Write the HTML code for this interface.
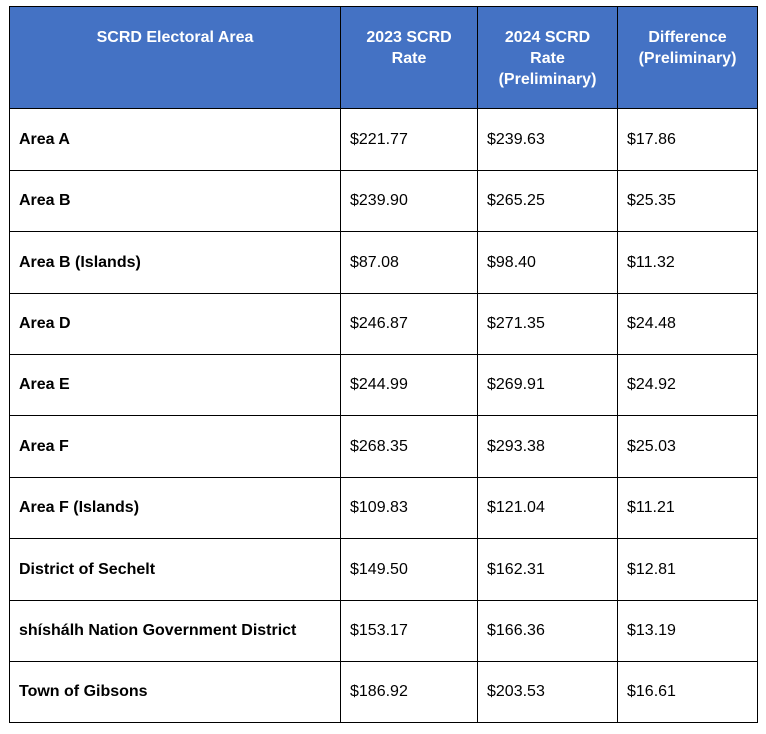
<!DOCTYPE html>
<html><head><meta charset="utf-8"><style>
body{margin:0;background:#fff;width:766px;height:734px;position:relative;font-family:"Liberation Sans",Arial,sans-serif;}
.c{position:absolute;box-sizing:border-box;border:1px solid #000;font-size:16px;color:#000;}
.h{background:#4472C4;color:#fff;font-weight:bold;text-align:center;padding-top:20px;line-height:21px;}
.d{display:flex;align-items:center;padding-left:9px;}
.b{font-weight:bold;}
</style></head><body>
<div id="t"></div>
<script>
const headers=["SCRD Electoral Area","2023 SCRD<br>Rate","2024 SCRD<br>Rate<br>(Preliminary)","Difference<br>(Preliminary)"];
const areas=["Area A","Area B","Area B (Islands)","Area D","Area E","Area F","Area F (Islands)","District of Sechelt","shíshálh Nation Government District","Town of Gibsons"];
const rate2023=["$221.77","$239.90","$87.08","$246.87","$244.99","$268.35","$109.83","$149.50","$153.17","$186.92"];
const rate2024=["$239.63","$265.25","$98.40","$271.35","$269.91","$293.38","$121.04","$162.31","$166.36","$203.53"];
const diff=["$17.86","$25.35","$11.32","$24.48","$24.92","$25.03","$11.21","$12.81","$13.19","$16.61"];
const xs=[9,340,477,617,757];
const ys=[6,108,170,231,293,354,415,477,538,600,661,722];
const t=document.getElementById('t');
function cell(x0,x1,y0,y1,html,cls,name){
  const d=document.createElement('div');
  d.className='c '+cls;
  d.style.left=x0+'px';d.style.top=y0+'px';
  d.style.width=(x1-x0+1)+'px';d.style.height=(y1-y0+1)+'px';
  d.innerHTML=html;
  
  
  t.appendChild(d);
}
headers.forEach((h,i)=>cell(xs[i],xs[i+1],ys[0],ys[1],h,'h','header-cell'));
const cols=[areas,rate2023,rate2024,diff];
for(let r=0;r<areas.length;r++){
  cols.forEach((col,i)=>{
    cell(xs[i],xs[i+1],ys[r+1],ys[r+2],col[r],'d'+(i===0?' b':''),i===0?'area-name-cell':'value-cell');
  });
}
</script>
</body></html>
